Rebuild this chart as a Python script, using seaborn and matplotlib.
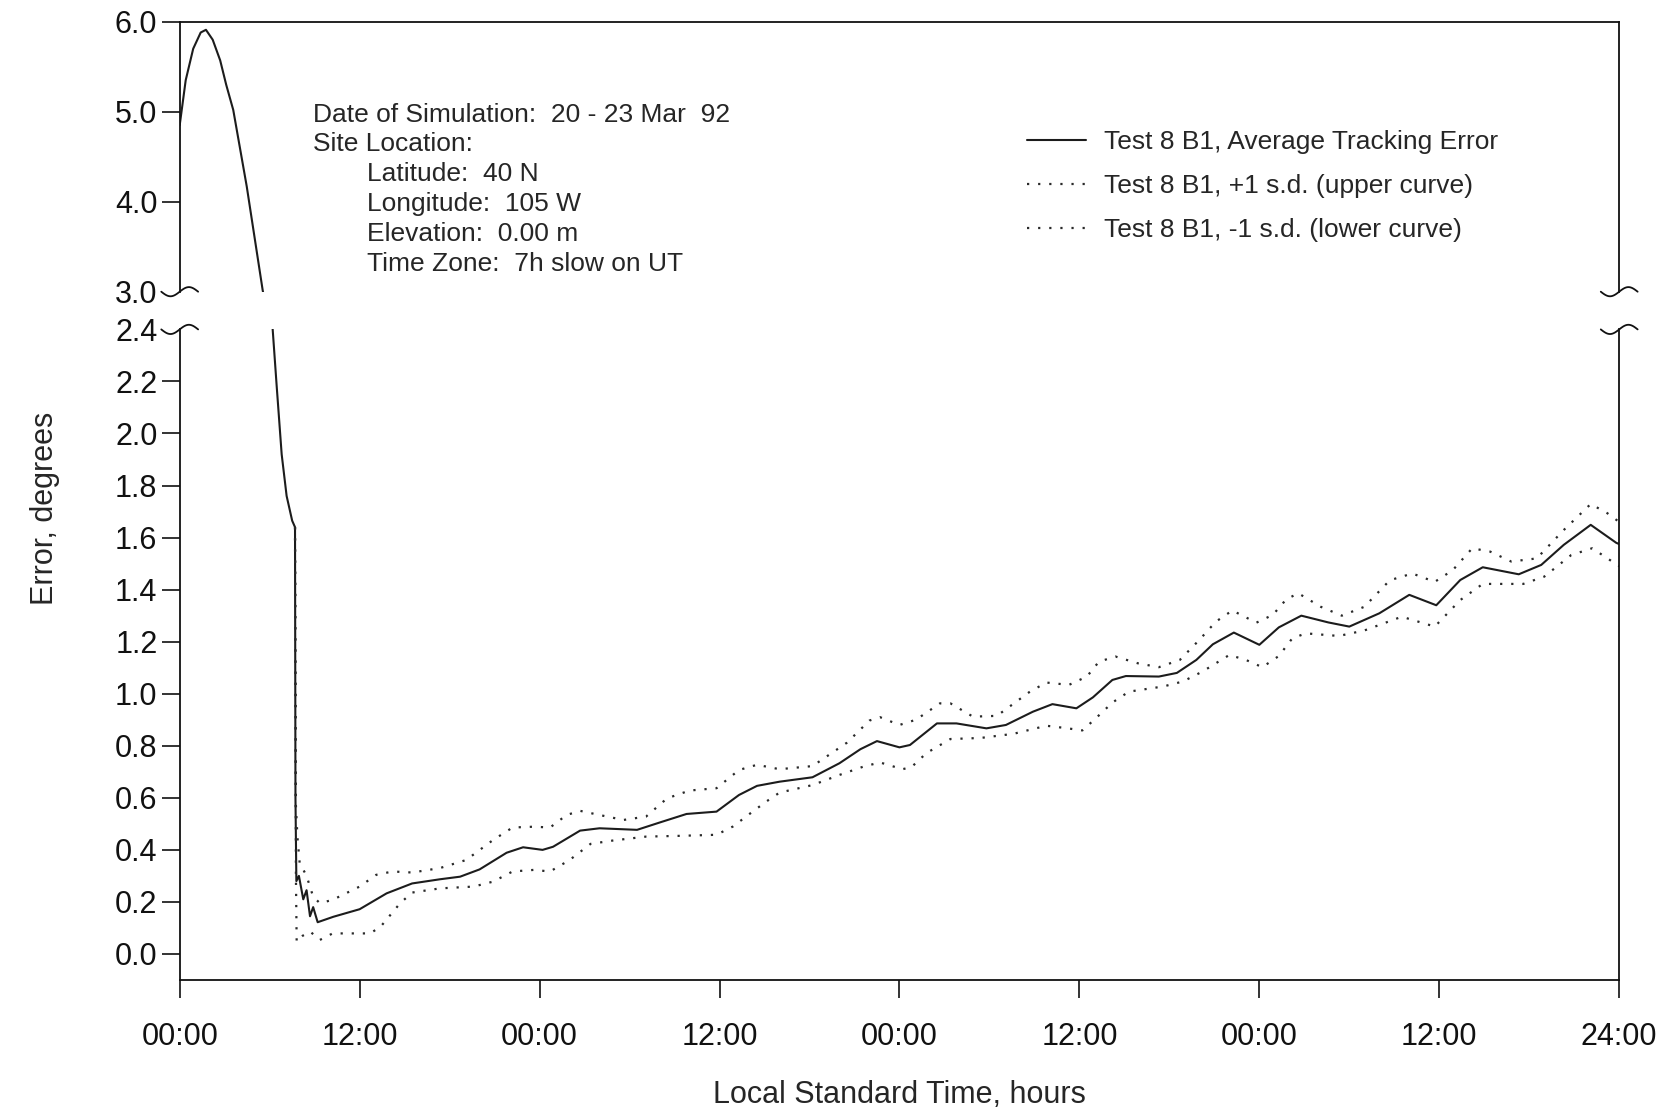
import numpy as np
import pandas as pd
import matplotlib
matplotlib.use('Agg')
from matplotlib import pyplot as plt
import seaborn as sns

# tempo (horas desde 00:00 do dia 20) e erro medio de rastreamento (graus)
horas_media = [0.0, 0.4, 0.9, 1.4, 1.75, 2.2, 2.7, 3.1, 3.57, 4.47, 5.53, 6.2, 6.47, 6.8, 7.13,
               7.5, 7.69, 7.72, 7.78, 7.95, 8.24, 8.46, 8.69, 8.9, 9.2, 10.25, 12.0, 13.8, 15.5,
               17.35, 18.7, 20.0, 21.8, 22.9, 24.2, 24.9, 26.7, 28.0, 30.5, 32.0, 33.8, 35.8,
               37.3, 38.5, 40.0, 42.2, 44.0, 45.4, 46.5, 48.0, 48.7, 50.5, 51.8, 53.8, 55.1,
               56.9, 58.2, 59.8, 60.9, 62.2, 63.1, 65.3, 66.5, 67.8, 68.9, 70.3, 72.0, 73.3,
               74.8, 76.6, 78.0, 80.0, 82.0, 83.8, 85.4, 86.9, 89.3, 90.8, 92.3, 94.1, 95.8, 96.0]
erro_media = [4.85, 5.35, 5.7, 5.88, 5.91, 5.8, 5.57, 5.3, 5.02, 4.17, 3.02, 2.40, 2.18, 1.92, 1.76,
              1.665, 1.64, 0.60, 0.28, 0.30, 0.21, 0.245, 0.145, 0.18, 0.122, 0.143, 0.172, 0.233, 0.271,
              0.287, 0.297, 0.325, 0.389, 0.41, 0.40, 0.412, 0.474, 0.483, 0.477, 0.505, 0.538, 0.547,
              0.611, 0.646, 0.662, 0.679, 0.733, 0.787, 0.818, 0.794, 0.803, 0.886, 0.886, 0.867, 0.880,
              0.931, 0.96, 0.944, 0.986, 1.053, 1.068, 1.066, 1.08, 1.13, 1.19, 1.235, 1.188, 1.255,
              1.30, 1.274, 1.258, 1.309, 1.38, 1.34, 1.437, 1.486, 1.459, 1.495, 1.572, 1.649, 1.58, 1.575]

# +1 desvio padrao (curva superior)
horas_sup = [7.69, 7.75, 7.85, 8.0, 8.46, 8.9, 9.35, 10.2, 12.0, 13.1, 14.2, 15.5, 17.35, 19.1,
             20.9, 22.2, 23.6, 24.7, 25.8, 26.7, 28.0, 29.6, 31.1, 32.5, 34.0, 35.8, 37.3, 38.5,
             40.0, 42.2, 44.5, 46.0, 46.7, 48.0, 49.1, 50.7, 51.4, 52.9, 54.5, 56.7, 57.8, 59.3,
             60.5, 61.3, 62.4, 63.9, 65.3, 66.7, 68.0, 69.1, 70.2, 71.8, 72.9, 73.8, 74.6, 76.1,
             77.5, 79.0, 80.7, 82.2, 83.7, 84.9, 86.2, 87.4, 88.8, 90.5, 92.3, 94.1, 95.2, 96.0]
erro_sup = [1.64, 0.57, 0.45, 0.35, 0.30, 0.22, 0.195, 0.208, 0.259, 0.304, 0.317, 0.313, 0.33, 0.361,
            0.438, 0.486, 0.489, 0.486, 0.534, 0.55, 0.534, 0.515, 0.528, 0.598, 0.628, 0.637, 0.707, 0.727,
            0.71, 0.722, 0.812, 0.897, 0.91, 0.88, 0.9, 0.963, 0.963, 0.912, 0.915, 1.008, 1.043, 1.034,
            1.066, 1.123, 1.143, 1.117, 1.102, 1.13, 1.207, 1.277, 1.32, 1.273, 1.303, 1.363, 1.386, 1.334,
            1.30, 1.334, 1.436, 1.462, 1.43, 1.475, 1.559, 1.546, 1.508, 1.52, 1.629, 1.729, 1.694, 1.66]

# -1 desvio padrao (curva inferior)
horas_inf = [7.69, 7.75, 7.8, 8.2, 8.7, 9.35, 10.2, 12.7, 13.4, 14.7, 15.5, 17.35, 19.6, 20.9,
             22.2, 23.6, 24.7, 26.0, 27.4, 28.9, 31.1, 33.4, 35.8, 36.9, 38.0, 39.1, 40.0, 42.2,
             44.0, 45.6, 46.7, 48.2, 48.8, 49.8, 51.4, 53.4, 55.6, 57.8, 59.1, 60.2, 61.1, 62.2,
             63.3, 65.6, 66.9, 68.2, 70.0, 71.1, 72.2, 73.3, 74.2, 75.1, 77.3, 79.0, 81.5, 83.7,
             85.4, 86.9, 89.6, 91.0, 92.8, 94.2, 96.0]
erro_inf = [1.64, 0.30, 0.047, 0.07, 0.086, 0.054, 0.079, 0.079, 0.105, 0.195, 0.236, 0.252, 0.259, 0.278,
            0.317, 0.323, 0.317, 0.361, 0.423, 0.436, 0.451, 0.454, 0.458, 0.49, 0.538, 0.585, 0.62, 0.649,
            0.688, 0.72, 0.736, 0.71, 0.718, 0.772, 0.826, 0.83, 0.846, 0.877, 0.868, 0.859, 0.906, 0.966,
            1.008, 1.028, 1.047, 1.085, 1.149, 1.13, 1.102, 1.145, 1.213, 1.232, 1.222, 1.243, 1.296, 1.258,
            1.36, 1.422, 1.422, 1.45, 1.533, 1.559, 1.49]

ticks_x = [0, 12, 24, 36, 48, 60, 72, 84, 96]
rotulos_x = ['00:00', '12:00', '00:00', '12:00', '00:00', '12:00', '00:00', '12:00', '24:00']
ticks_cima = [3.0, 4.0, 5.0, 6.0]
ticks_baixo = [0.0, 0.2, 0.4, 0.6, 0.8, 1.0, 1.2, 1.4, 1.6, 1.8, 2.0, 2.2, 2.4]

legendas = ['Test 8 B1, Average Tracking Error',
            'Test 8 B1, +1 s.d. (upper curve)',
            'Test 8 B1, -1 s.d. (lower curve)']
info = ['Date of Simulation:  20 - 23 Mar  92', 'Site Location:', 'Latitude:  40 N',
        'Longitude:  105 W', 'Elevation:  0.00 m', 'Time Zone:  7h slow on UT']
recuo = [False, False, True, True, True, True]

sns.set_style('ticks')
plt.rcParams['font.family'] = ['Liberation Sans', 'DejaVu Sans']
plt.rcParams['axes.edgecolor'] = '#111111'
plt.rcParams['axes.linewidth'] = 1.3

media = pd.DataFrame({'hora': horas_media, 'erro': erro_media})
sup = pd.DataFrame({'hora': horas_sup, 'erro': erro_sup})
inf = pd.DataFrame({'hora': horas_inf, 'erro': erro_inf})

fig = plt.figure(figsize=(16.77, 11.13), dpi=100)
ax_top = fig.add_axes([0.10716, 0.73792, 0.85838, 0.24258])
ax_bot = fig.add_axes([0.10716, 0.11950, 0.85838, 0.58454])

cor = '#1c1c1c'
pontilhado = (0, (1, 4))
for ax in (ax_top, ax_bot):
    sns.lineplot(data=media, x='hora', y='erro', ax=ax, color=cor, lw=1.5,
                 estimator=None, sort=False, legend=False)
sns.lineplot(data=sup, x='hora', y='erro', ax=ax_bot, color='#2a2a2a', lw=1.6,
             linestyle=pontilhado, estimator=None, sort=False, legend=False)
sns.lineplot(data=inf, x='hora', y='erro', ax=ax_bot, color='#2a2a2a', lw=1.6,
             linestyle=pontilhado, estimator=None, sort=False, legend=False)

for ax in (ax_top, ax_bot):
    ax.set_xlim(0, 96)
    ax.set_xlabel('')
    ax.set_ylabel('')
    ax.tick_params(axis='both', length=13, width=1.2, colors='#111111', labelsize=22)
    ax.tick_params(axis='y', pad=3)

ax_top.set_ylim(3, 6)
ax_top.set_yticks(ticks_cima)
ax_top.set_yticklabels([f'{v:.1f}' for v in ticks_cima])
ax_top.tick_params(axis='x', bottom=False, labelbottom=False)
ax_top.spines['bottom'].set_visible(False)
ax_top.yaxis.get_major_ticks()[0].tick1line.set_visible(False)

ax_bot.set_ylim(-0.1, 2.4)
ax_bot.set_yticks(ticks_baixo)
ax_bot.set_yticklabels([f'{v:.1f}' for v in ticks_baixo])
ax_bot.set_xticks(ticks_x)
ax_bot.set_xticklabels(rotulos_x)
ax_bot.tick_params(axis='x', pad=17)
ax_bot.spines['top'].set_visible(False)
ax_bot.yaxis.get_major_ticks()[-1].tick1line.set_visible(False)

# marcas de quebra do eixo (~)
t = np.linspace(-np.pi, np.pi, 80)
dx = 0.0128
for ax, y0, amp in ((ax_top, 0, 0.017), (ax_bot, 1, 0.0071)):
    for x0 in (0, 1):
        ax.plot(x0 + dx * t / np.pi, y0 + amp * np.sin(t), transform=ax.transAxes,
                clip_on=False, color='#111111', lw=1.3)

fig.text(0.027, 0.5436, 'Error, degrees', rotation=90, ha='center', va='center', fontsize=22)
fig.text(0.5364, 0.016, 'Local Standard Time, hours', ha='center', va='center', fontsize=22)

for i, (linha, r) in enumerate(zip(info, recuo)):
    fig.text(0.2187 if r else 0.1869, 1 - (114.5 + 29.95 * i) / 1113, linha,
             ha='left', va='center', fontsize=19)

linhas = ax_bot.get_lines()[:3]
fig.legend(linhas, legendas, loc='upper left', bbox_to_anchor=(0.6122, 0.8829),
           frameon=False, fontsize=19, borderpad=0, borderaxespad=0,
           handlelength=2.23, handletextpad=0.69, labelspacing=0.76)

fig.savefig('out.png', dpi=100)
